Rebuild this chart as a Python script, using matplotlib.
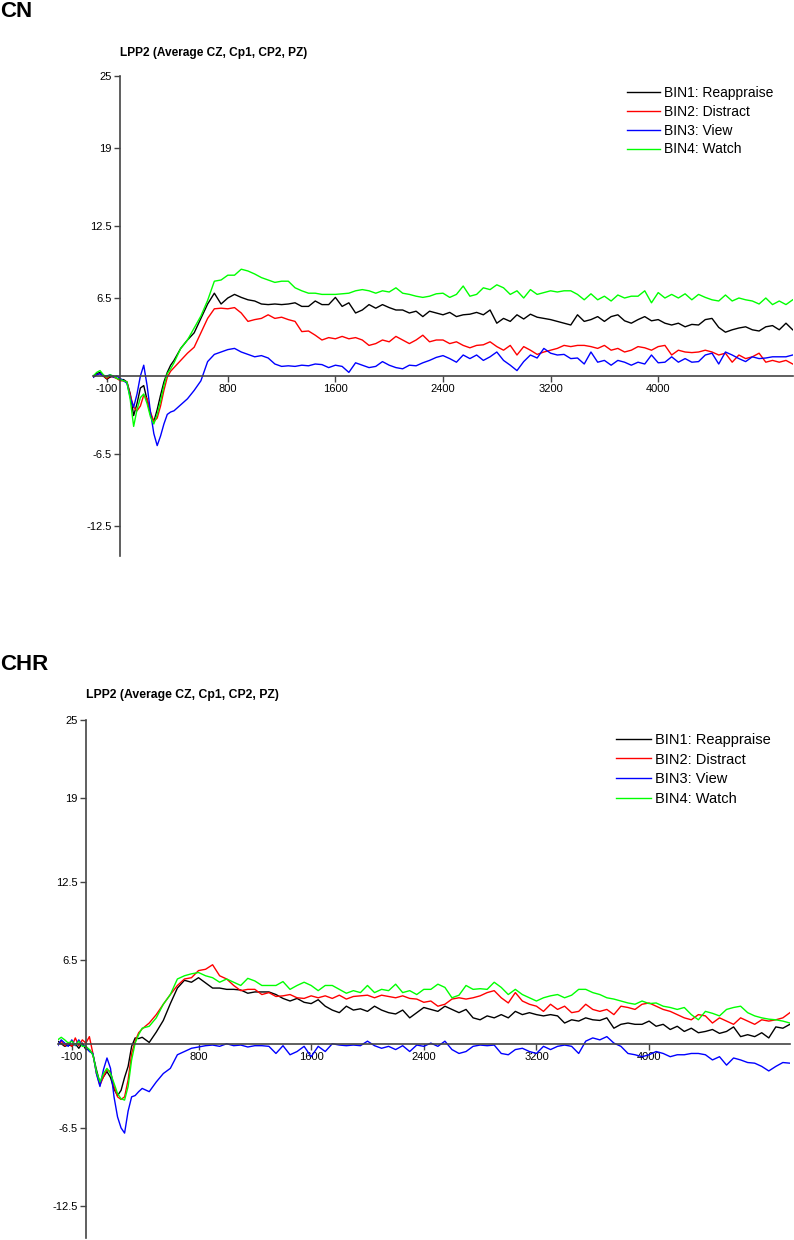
import numpy as np
import matplotlib
matplotlib.use("Agg")
import matplotlib.pyplot as plt

plt.rcParams['font.family'] = ['Liberation Sans', 'DejaVu Sans']

# time axis (ms): 25 ms steps up to 400, then 50 ms steps
t_ms = list(range(-200, 401, 25)) + list(range(450, 5001, 50))

labels = ["BIN1: Reappraise", "BIN2: Distract", "BIN3: View", "BIN4: Watch"]
colors = ["#000000", "#ff0000", "#0000ff", "#00ff00"]

ytick_vals = [25, 19, 12.5, 6.5, -6.5, -12.5]
ytick_labels = ["25", "19", "12.5", "6.5", "-6.5", "-12.5"]
xtick_vals = [-100, 800, 1600, 2400, 3200, 4000]
xtick_labels = ["-100", "800", "1600", "2400", "3200", "4000"]

# ---- CN group ----
cn_bin1 = [0.0, 0.2, 0.3, 0.0, -0.25, -0.1, 0.0, -0.2, -0.3, -0.3, -0.5, -1.5, -3.3,
           -2.3, -1.0, -0.8, -2.0, -3.2, -3.8, -2.8, -1.6, -0.5, 0.3, 0.9, 1.3,
           2.3, 3.0, 3.6, 4.8, 6.0, 6.9, 6.0, 6.5, 6.8, 6.55,
           6.35, 6.25, 6.0, 5.95, 6.0, 5.95, 6.0, 6.1, 5.8, 5.8,
           6.25, 5.95, 5.95, 6.55, 5.8, 6.1, 5.25, 5.5, 5.95, 5.65,
           5.95, 5.7, 5.5, 5.5, 5.25, 5.4, 4.95, 5.4, 5.25, 5.1,
           5.3, 4.95, 5.1, 5.15, 5.3, 5.1, 5.5, 4.4, 4.8, 4.55,
           5.1, 4.75, 5.15, 4.9, 4.8, 4.7, 4.55, 4.4, 4.25, 5.1,
           4.55, 4.7, 4.95, 4.55, 4.95, 5.1, 4.6, 4.4, 4.7, 4.95,
           4.6, 4.7, 4.4, 4.25, 4.4, 4.1, 4.3, 4.25, 4.7, 4.8,
           4.05, 3.65, 3.85, 4.0, 4.1, 3.85, 3.75, 4.1, 4.2, 3.85,
           4.4, 3.85]
cn_bin2 = [-0.1, 0.1, 0.2, 0.0, -0.2, 0.0, -0.1, -0.2, -0.4, -0.4, -0.5, -1.6, -2.6,
           -2.9, -2.5, -1.6, -1.9, -3.0, -3.8, -3.5, -2.5, -1.2, -0.1, 0.4, 0.7,
           1.3, 1.9, 2.4, 3.6, 4.8, 5.6, 5.65, 5.6, 5.7, 5.25,
           4.55, 4.7, 4.8, 5.1, 4.8, 4.9, 4.7, 4.55, 3.7, 3.75,
           3.4, 3.0, 3.2, 3.1, 3.3, 3.1, 3.2, 3.0, 2.55, 2.7,
           3.0, 2.85, 3.3, 3.0, 2.7, 3.0, 3.4, 2.85, 3.0, 3.0,
           2.7, 2.85, 2.55, 2.35, 2.55, 2.6, 2.85, 2.45, 2.15, 2.55,
           1.75, 2.45, 2.15, 1.8, 2.0, 2.15, 2.3, 2.55, 2.45, 2.55,
           2.55, 2.45, 2.3, 2.55, 2.15, 2.3, 2.0, 2.15, 2.45, 2.35,
           2.15, 2.45, 2.55, 1.75, 2.15, 2.0, 1.95, 2.0, 2.15, 2.0,
           1.75, 1.9, 1.15, 1.75, 1.45, 1.6, 1.9, 1.15, 1.3, 1.15,
           1.3, 1.0]
cn_bin3 = [-0.1, 0.1, 0.2, 0.0, 0.0, 0.1, -0.1, 0.0, -0.2, -0.4, -0.6, -1.8, -2.6,
           -1.5, 0.0, 0.9, -0.8, -3.0, -4.8, -5.8, -5.0, -4.0, -3.2, -3.0, -2.9,
           -2.4, -1.9, -1.2, -0.4, 1.2, 1.8, 2.0, 2.2, 2.3, 2.0,
           1.8, 1.6, 1.7, 1.5, 1.0, 0.8, 0.85, 0.8, 0.9, 0.85,
           1.0, 0.95, 0.7, 0.9, 0.8, 0.3, 1.1, 0.9, 0.7, 0.8,
           1.2, 0.9, 0.7, 0.6, 0.9, 0.85, 1.1, 1.3, 1.55, 1.7,
           1.45, 1.15, 1.75, 1.45, 1.75, 1.3, 1.6, 2.0, 1.3, 0.9,
           0.45, 1.2, 1.75, 1.5, 2.3, 1.9, 1.75, 1.8, 1.45, 1.5,
           1.0, 2.0, 1.15, 1.3, 0.9, 1.3, 1.15, 0.9, 1.15, 1.0,
           1.75, 1.1, 1.15, 1.6, 1.15, 1.45, 1.15, 1.2, 1.75, 1.9,
           1.0, 2.0, 1.75, 1.45, 1.2, 1.6, 1.45, 1.5, 1.6, 1.6,
           1.6, 1.75]
cn_bin4 = [0.0, 0.3, 0.45, 0.1, -0.1, 0.1, 0.0, -0.2, -0.3, -0.4, -0.5, -2.0, -4.2,
           -2.8, -1.8, -1.5, -2.3, -3.4, -4.0, -3.2, -2.1, -0.8, 0.2, 0.6, 1.1,
           2.3, 3.0, 4.0, 5.0, 6.3, 7.9, 8.0, 8.4, 8.4, 8.9,
           8.75, 8.5, 8.2, 8.0, 7.8, 7.9, 7.9, 7.35, 7.1, 6.9,
           6.9, 6.8, 6.8, 6.8, 6.85, 6.9, 7.1, 7.2, 7.1, 6.9,
           7.1, 7.0, 7.35, 6.9, 6.8, 6.65, 6.55, 6.65, 6.85, 6.9,
           6.55, 6.8, 7.5, 6.65, 6.8, 7.35, 7.2, 7.6, 7.35, 6.8,
           7.1, 6.5, 7.2, 6.8, 6.95, 7.1, 7.0, 7.1, 7.1, 6.8,
           6.35, 6.85, 6.35, 6.65, 6.25, 6.75, 6.5, 6.65, 6.65, 7.1,
           6.1, 6.95, 6.5, 6.8, 6.5, 6.85, 6.35, 6.8, 6.55, 6.35,
           6.25, 6.75, 6.25, 6.5, 6.35, 6.25, 6.0, 6.5, 5.95, 6.25,
           5.95, 6.35]

# ---- CHR group ----
chr_bin1 = [0.2, 0.0, -0.2, -0.1, -0.15, 0.0, -0.35, 0.05, -0.45, -0.45, -0.85, -2.0, -3.05,
            -2.55, -2.15, -2.6, -3.5, -4.0, -3.6, -2.6, -1.75, -0.2, 0.45, 0.4, 0.5,
            0.1, 0.9, 1.8, 3.1, 4.3, 4.9, 4.75, 5.1, 4.7, 4.3,
            4.3, 4.2, 4.2, 4.15, 3.9, 4.0, 4.0, 4.0, 3.8, 3.5,
            3.3, 3.5, 3.2, 3.1, 3.4, 2.9, 2.6, 2.4, 2.9, 2.6,
            2.7, 2.5, 2.9, 2.6, 2.4, 2.3, 2.6, 2.0, 2.4, 2.8,
            2.65, 2.5, 2.9, 2.65, 2.4, 2.65, 2.0, 1.85, 2.15, 2.0,
            2.25, 2.0, 2.5, 2.25, 2.4, 2.25, 2.15, 2.25, 2.15, 1.6,
            1.85, 1.75, 2.0, 1.85, 1.8, 2.0, 1.2, 1.5, 1.6, 1.5,
            1.5, 1.75, 1.35, 1.5, 1.1, 1.35, 0.95, 1.2, 0.85, 0.95,
            1.1, 0.8, 0.95, 1.3, 0.55, 0.7, 0.55, 0.85, 0.45, 1.3,
            1.2, 1.5]
chr_bin2 = [-0.1, 0.2, -0.15, 0.1, -0.2, 0.45, -0.15, 0.3, 0.05, 0.55, -0.75, -2.3, -3.2,
            -2.55, -2.0, -2.15, -3.3, -4.1, -4.3, -4.1, -2.8, -0.75, 0.2, 0.85, 1.15,
            1.6, 2.25, 3.05, 3.8, 4.5, 5.0, 5.1, 5.65, 5.75, 6.1,
            5.25, 5.0, 4.5, 4.1, 4.2, 4.2, 3.8, 3.95, 3.65, 3.7,
            3.8, 3.55, 3.5, 3.7, 3.55, 3.7, 3.5, 3.75, 3.45, 3.65,
            3.7, 3.75, 3.55, 3.75, 3.65, 3.55, 3.7, 3.5, 3.45, 3.2,
            3.3, 2.9, 3.05, 3.45, 3.55, 3.45, 3.55, 3.7, 3.95, 4.1,
            3.55, 3.15, 3.95, 3.3, 3.05, 2.9, 2.5, 3.05, 2.65, 2.9,
            2.4, 2.5, 3.05, 2.65, 2.5, 2.65, 2.25, 2.9, 2.8, 2.65,
            3.05, 3.15, 2.9, 2.65, 2.5, 2.25, 2.0, 1.85, 2.25, 2.15,
            1.6, 2.0, 1.75, 1.5, 2.0, 1.75, 1.5, 1.85, 1.75, 1.85,
            2.0, 2.4]
chr_bin3 = [-0.15, 0.3, 0.05, -0.2, 0.3, -0.15, 0.3, -0.15, -0.2, -0.6, -0.75, -2.3, -3.3,
            -2.0, -1.1, -1.9, -4.1, -5.65, -6.5, -6.9, -5.2, -4.1, -4.0, -3.7, -3.45,
            -3.7, -2.95, -2.3, -1.9, -0.85, -0.6, -0.35, -0.25, -0.15, -0.1,
            -0.2, 0.0, -0.15, -0.1, -0.25, -0.15, -0.15, -0.2, -0.75, -0.15,
            -0.85, -0.6, -0.2, -1.0, -0.2, -0.6, 0.0, -0.1, -0.15, -0.1,
            -0.15, 0.2, -0.15, -0.35, -0.2, -0.45, -0.15, -0.6, -0.1, -0.2,
            0.05, -0.2, 0.2, -0.45, -0.75, -0.6, -0.2, -0.1, -0.15, -0.1,
            -0.75, -0.85, -0.45, -0.35, -0.6, -0.75, -0.2, -0.45, -0.2, -0.1,
            -0.2, -0.75, 0.2, 0.45, 0.3, 0.55, 0.05, -0.2, -0.75, -0.85,
            -1.0, -0.85, -0.6, -0.75, -1.0, -0.85, -0.85, -0.75, -0.75, -0.85,
            -1.25, -1.0, -1.65, -1.1, -1.25, -1.45, -1.5, -1.75, -2.1, -1.75,
            -1.45, -1.5]
chr_bin4 = [0.3, 0.5, 0.3, 0.05, 0.2, -0.1, 0.2, -0.2, -0.2, -0.45, -0.85, -2.15, -2.95,
            -2.3, -1.9, -2.3, -3.05, -3.85, -4.25, -4.35, -3.3, -1.25, 0.05, 0.7, 1.2,
            1.35, 2.0, 3.05, 3.8, 5.0, 5.25, 5.4, 5.5, 5.25, 5.1,
            4.75, 5.0, 4.75, 4.5, 5.05, 4.85, 4.5, 4.5, 4.5, 4.8,
            4.2, 4.5, 4.75, 4.5, 4.1, 4.5, 4.5, 4.2, 3.9, 4.1,
            3.95, 4.5, 3.95, 4.2, 4.1, 4.6, 3.95, 4.1, 3.8, 4.2,
            4.2, 4.6, 4.35, 3.55, 3.75, 4.5, 4.2, 4.25, 4.2, 4.75,
            4.35, 3.8, 4.2, 3.8, 3.55, 3.3, 3.55, 3.7, 3.8, 3.55,
            3.75, 4.2, 4.2, 3.95, 3.8, 3.55, 3.45, 3.3, 3.15, 3.05,
            3.3, 3.1, 3.15, 2.9, 2.8, 2.65, 2.8, 2.25, 1.85, 2.5,
            2.35, 2.15, 2.65, 2.8, 2.9, 2.4, 2.15, 2.0, 1.9, 1.85,
            1.75, 1.6]

W, H = 794, 1240
fig = plt.figure(figsize=(W / 100, H / 100), dpi=100)


def draw_panel(ax, series, legend_xy, legend_fs, label_spacing):
	for vals, col, lab in zip(series, colors, labels):
		ax.plot(t_ms, vals, color=col, lw=1.0, label=lab)
	ax.set_xlim(-200, 5000)
	ax.set_ylim(-15, 25)
	for s in ["top", "right"]:
		ax.spines[s].set_visible(False)
	ax.spines["left"].set_position(("data", 0))
	ax.spines["bottom"].set_position(("data", 0))
	for s in ["left", "bottom"]:
		ax.spines[s].set_color("#444444")
		ax.spines[s].set_linewidth(1.2)
	ax.set_yticks(ytick_vals)
	ax.set_yticklabels(ytick_labels)
	ax.set_xticks(xtick_vals)
	ax.set_xticklabels(xtick_labels)
	ax.tick_params(axis="both", direction="out", length=4, width=1,
		color="#444444", labelsize=8, pad=2)
	ax.patch.set_visible(False)
	leg = ax.legend(loc="upper left", bbox_to_anchor=legend_xy,
		bbox_transform=fig.transFigure, frameon=False, fontsize=legend_fs,
		handlelength=2.4, handletextpad=0.25, labelspacing=label_spacing,
		borderpad=0, borderaxespad=0)
	for line in leg.get_lines():
		line.set_linewidth(1.0)


# top panel (CN)
ax1 = fig.add_axes([93.3 / W, 1 - 556 / H, 699.4 / W, 480 / H])
draw_panel(ax1, [cn_bin1, cn_bin2, cn_bin3, cn_bin4], (627 / W, 1 - 86 / H), 10, 0.345)

# bottom panel (CHR)
ax2 = fig.add_axes([57.7 / W, 1 - 1238 / H, 732.2 / W, 518 / H])
draw_panel(ax2, [chr_bin1, chr_bin2, chr_bin3, chr_bin4], (616 / W, 1 - 733 / H), 10.5, 0.38)

fig.text(0.0, 1 - 1 / H, "CN", fontsize=16, fontweight="bold", va="top", ha="left")
fig.text(0.0, 1 - 654 / H, "CHR", fontsize=16, fontweight="bold", va="top", ha="left")
fig.text(120 / W, 1 - 53 / H, "LPP2 (Average CZ, Cp1, CP2, PZ)", fontsize=8.6,
	fontweight="bold", va="center", ha="left")
fig.text(86 / W, 1 - 695 / H, "LPP2 (Average CZ, Cp1, CP2, PZ)", fontsize=8.8,
	fontweight="bold", va="center", ha="left")

fig.savefig("out.png", dpi=100)
